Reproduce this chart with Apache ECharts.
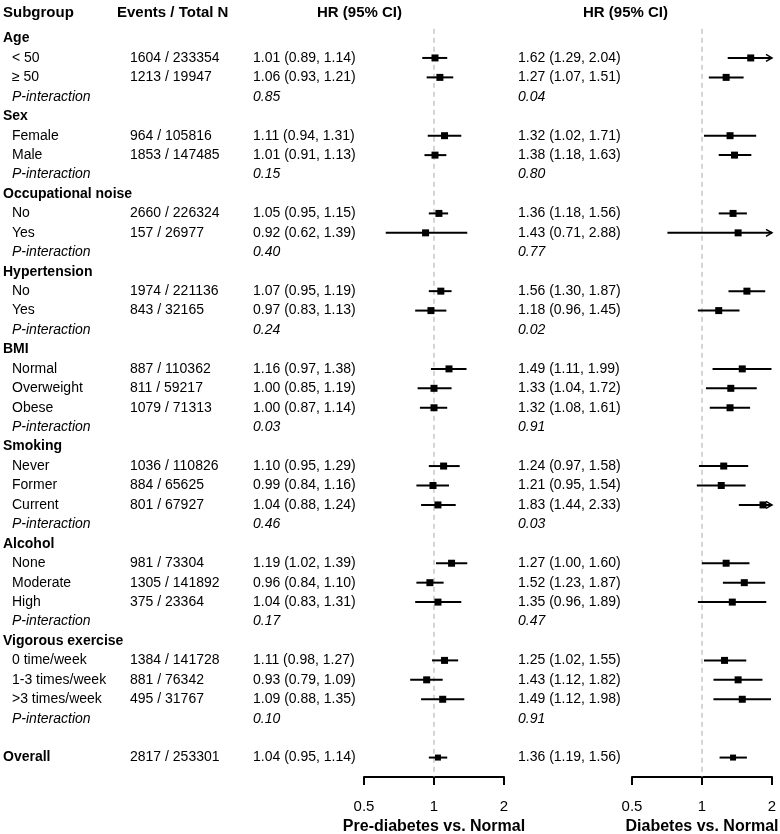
<!DOCTYPE html>
<html>
<head>
<meta charset="utf-8">
<script src="https://cdn.jsdelivr.net/npm/echarts@6/dist/echarts.min.js"></script>
<style>
html,body{margin:0;padding:0;background:#fff;}
#chart{width:780px;height:834px;}
</style>
</head>
<body>
<div id="chart"></div>
<script>
// ---------------- DATA ----------------
const groups = ['Age','Sex','Occupational noise','Hypertension','BMI','Smoking','Alcohol','Vigorous exercise'];
const subgroups = [
  ['< 50','≥ 50'],
  ['Female','Male'],
  ['No','Yes'],
  ['No','Yes'],
  ['Normal','Overweight','Obese'],
  ['Never','Former','Current'],
  ['None','Moderate','High'],
  ['0 time/week','1-3 times/week','>3 times/week']
];
const events = [
  ['1604 / 233354','1213 / 19947'],
  ['964 / 105816','1853 / 147485'],
  ['2660 / 226324','157 / 26977'],
  ['1974 / 221136','843 / 32165'],
  ['887 / 110362','811 / 59217','1079 / 71313'],
  ['1036 / 110826','884 / 65625','801 / 67927'],
  ['981 / 73304','1305 / 141892','375 / 23364'],
  ['1384 / 141728','881 / 76342','495 / 31767']
];
const preHR = [[1.01,1.06],[1.11,1.01],[1.05,0.92],[1.07,0.97],[1.16,1.00,1.00],[1.10,0.99,1.04],[1.19,0.96,1.04],[1.11,0.93,1.09]];
const preLo = [[0.89,0.93],[0.94,0.91],[0.95,0.62],[0.95,0.83],[0.97,0.85,0.87],[0.95,0.84,0.88],[1.02,0.84,0.83],[0.98,0.79,0.88]];
const preHi = [[1.14,1.21],[1.31,1.13],[1.15,1.39],[1.19,1.13],[1.38,1.19,1.14],[1.29,1.16,1.24],[1.39,1.10,1.31],[1.27,1.09,1.35]];
const preP  = ['0.85','0.15','0.40','0.24','0.03','0.46','0.17','0.10'];
const diaHR = [[1.62,1.27],[1.32,1.38],[1.36,1.43],[1.56,1.18],[1.49,1.33,1.32],[1.24,1.21,1.83],[1.27,1.52,1.35],[1.25,1.43,1.49]];
const diaLo = [[1.29,1.07],[1.02,1.18],[1.18,0.71],[1.30,0.96],[1.11,1.04,1.08],[0.97,0.95,1.44],[1.00,1.23,0.96],[1.02,1.12,1.12]];
const diaHi = [[2.04,1.51],[1.71,1.63],[1.56,2.88],[1.87,1.45],[1.99,1.72,1.61],[1.58,1.54,2.33],[1.60,1.87,1.89],[1.55,1.82,1.98]];
const diaP  = ['0.04','0.80','0.77','0.02','0.91','0.03','0.47','0.91'];
const overallLabel = 'Overall';
const overallEvents = '2817 / 253301';
const overallPre = [1.04, 0.95, 1.14];
const overallDia = [1.36, 1.19, 1.56];
const headers = ['Subgroup','Events / Total N','HR (95% CI)','HR (95% CI)'];
const axisNames = ['Pre-diabetes vs. Normal','Diabetes vs. Normal'];

// ---------------- BUILD ROWS ----------------
const fmt = (h,l,u) => h.toFixed(2) + ' (' + l.toFixed(2) + ', ' + u.toFixed(2) + ')';
const rows = [];      // text rows
const preCI = [];     // [row, hr, lo, hi, overall]
const diaCI = [];
let r = 0;
groups.forEach((g, gi) => {
  rows.push({row: r, label: g, kind: 'group'}); r++;
  subgroups[gi].forEach((s, si) => {
    rows.push({row: r, label: s, kind: 'sub', events: events[gi][si],
      pre: fmt(preHR[gi][si], preLo[gi][si], preHi[gi][si]),
      dia: fmt(diaHR[gi][si], diaLo[gi][si], diaHi[gi][si])});
    preCI.push([r, preHR[gi][si], preLo[gi][si], preHi[gi][si], 0]);
    diaCI.push([r, diaHR[gi][si], diaLo[gi][si], diaHi[gi][si], 0]);
    r++;
  });
  rows.push({row: r, label: 'P-interaction', kind: 'p', pre: preP[gi], dia: diaP[gi]}); r++;
});
r++; // blank row
rows.push({row: r, label: overallLabel, kind: 'group', events: overallEvents,
  pre: fmt(overallPre[0], overallPre[1], overallPre[2]),
  dia: fmt(overallDia[0], overallDia[1], overallDia[2])});
preCI.push([r, overallPre[0], overallPre[1], overallPre[2], 1]);
diaCI.push([r, overallDia[0], overallDia[1], overallDia[2], 1]);

// ---------------- LAYOUT ----------------
const FONT = '"Liberation Sans", Arial, sans-serif';
const TOP = 28.8, BOTTOM_Y = 777;
const YMIN = -0.5, YMAX = 38;
const X_MIN = 0.5, X_MAX = 2;
const colX = {group: 3, sub: 12, events: 130, pre: 253, dia: 518};

function ciRender(params, api) {
  const y = api.value(0), hr = api.value(1), lo = api.value(2), hi = api.value(3), ov = api.value(4);
  const lo2 = Math.max(lo, X_MIN), hi2 = Math.min(hi, X_MAX);
  const p1 = api.coord([lo2, y]), p2 = api.coord([hi2, y]), pc = api.coord([hr, y]);
  const sz = ov ? 6 : 7;
  const children = [
    {type: 'line', shape: {x1: p1[0], y1: p1[1], x2: p2[0], y2: p2[1]},
     style: {stroke: '#000', lineWidth: 2}},
    {type: 'rect', shape: {x: pc[0] - sz/2, y: pc[1] - sz/2, width: sz, height: sz},
     style: {fill: '#000'}}
  ];
  if (hi > X_MAX) {
    children.push({type: 'polyline', shape: {points: [[p2[0]-6, p2[1]-3.5],[p2[0], p2[1]],[p2[0]-6, p2[1]+3.5]]},
      style: {stroke: '#000', lineWidth: 1.5, fill: null}});
  }
  if (lo < X_MIN) {
    children.push({type: 'polyline', shape: {points: [[p1[0]+6, p1[1]-3.5],[p1[0], p1[1]],[p1[0]+6, p1[1]+3.5]]},
      style: {stroke: '#000', lineWidth: 1.5, fill: null}});
  }
  return {type: 'group', children};
}

function textRender(params, api) {
  const row = rows[params.dataIndex];
  const y = api.coord([0, row.row])[1];
  const els = [];
  const mk = (x, t, font) => ({type: 'text', style: {x, y, text: t, fill: '#000', font, align: 'left', verticalAlign: 'middle'}});
  if (row.kind === 'group') els.push(mk(colX.group, row.label, 'bold 14px ' + FONT));
  else if (row.kind === 'sub') els.push(mk(colX.sub, row.label, '14px ' + FONT));
  else els.push(mk(colX.sub, row.label, 'italic 14px ' + FONT));
  const f = row.kind === 'p' ? 'italic 14px ' + FONT : '14px ' + FONT;
  if (row.events) els.push(mk(colX.events, row.events, '14px ' + FONT));
  if (row.pre) els.push(mk(colX.pre, row.pre, f));
  if (row.dia) els.push(mk(colX.dia, row.dia, f));
  return {type: 'group', children: els};
}

function panelX(gi, name) {
  return {
    gridIndex: gi, type: 'log', logBase: 2, min: X_MIN, max: X_MAX, splitNumber: 2, position: 'bottom',
    axisLine: {show: true, onZero: false, lineStyle: {color: '#000', width: 2}},
    axisTick: {show: true, length: 8, inside: false, lineStyle: {color: '#000', width: 2}},
    axisLabel: {color: '#000', fontSize: 15, fontFamily: FONT, margin: 22, formatter: v => String(+v.toFixed(2))},
    splitLine: {show: false},
    name: name, nameLocation: 'middle', nameGap: 42,
    nameTextStyle: {color: '#000', fontSize: 16, fontWeight: 'bold', fontFamily: FONT}
  };
}
const yAx = gi => ({gridIndex: gi, type: 'value', min: YMIN, max: YMAX, inverse: true, show: false});
const refLine = gi => ({
  type: 'line', xAxisIndex: gi, yAxisIndex: gi, data: [[1, YMIN], [1, YMAX]], symbol: 'none', silent: true, z: 1,
  lineStyle: {color: '#aaa', width: 1, type: [5, 4]}
});

const gridBase = {top: TOP, height: BOTTOM_Y - TOP, outerBoundsMode: 'none', containLabel: false};
const chart = echarts.init(document.getElementById('chart'), null, {renderer: 'canvas'});
chart.setOption({
  animation: false,
  backgroundColor: '#fff',
  grid: [
    Object.assign({left: 0, width: 780}, gridBase),
    Object.assign({left: 364, width: 140}, gridBase),
    Object.assign({left: 632, width: 140}, gridBase)
  ],
  xAxis: [
    {gridIndex: 0, type: 'value', min: 0, max: 780, show: false},
    panelX(1, axisNames[0]),
    panelX(2, axisNames[1])
  ],
  yAxis: [yAx(0), yAx(1), yAx(2)],
  graphic: [
    {type: 'text', left: 3, top: 5, style: {text: headers[0], font: 'bold 15px ' + FONT, fill: '#000'}},
    {type: 'text', left: 117, top: 5, style: {text: headers[1], font: 'bold 15px ' + FONT, fill: '#000'}},
    {type: 'text', left: 317, top: 5, style: {text: headers[2], font: 'bold 15px ' + FONT, fill: '#000'}},
    {type: 'text', left: 583, top: 5, style: {text: headers[3], font: 'bold 15px ' + FONT, fill: '#000'}}
  ],
  series: [
    {type: 'custom', xAxisIndex: 0, yAxisIndex: 0, renderItem: textRender, clip: false,
     data: rows.map(o => [0, o.row]), encode: {x: 0, y: 1}, silent: true},
    refLine(1), refLine(2),
    {type: 'custom', xAxisIndex: 1, yAxisIndex: 1, renderItem: ciRender, clip: false, z: 3,
     data: preCI, encode: {x: [1, 2, 3], y: 0}, silent: true},
    {type: 'custom', xAxisIndex: 2, yAxisIndex: 2, renderItem: ciRender, clip: false, z: 3,
     data: diaCI, encode: {x: [1, 2, 3], y: 0}, silent: true}
  ]
});
</script>
</body>
</html>
